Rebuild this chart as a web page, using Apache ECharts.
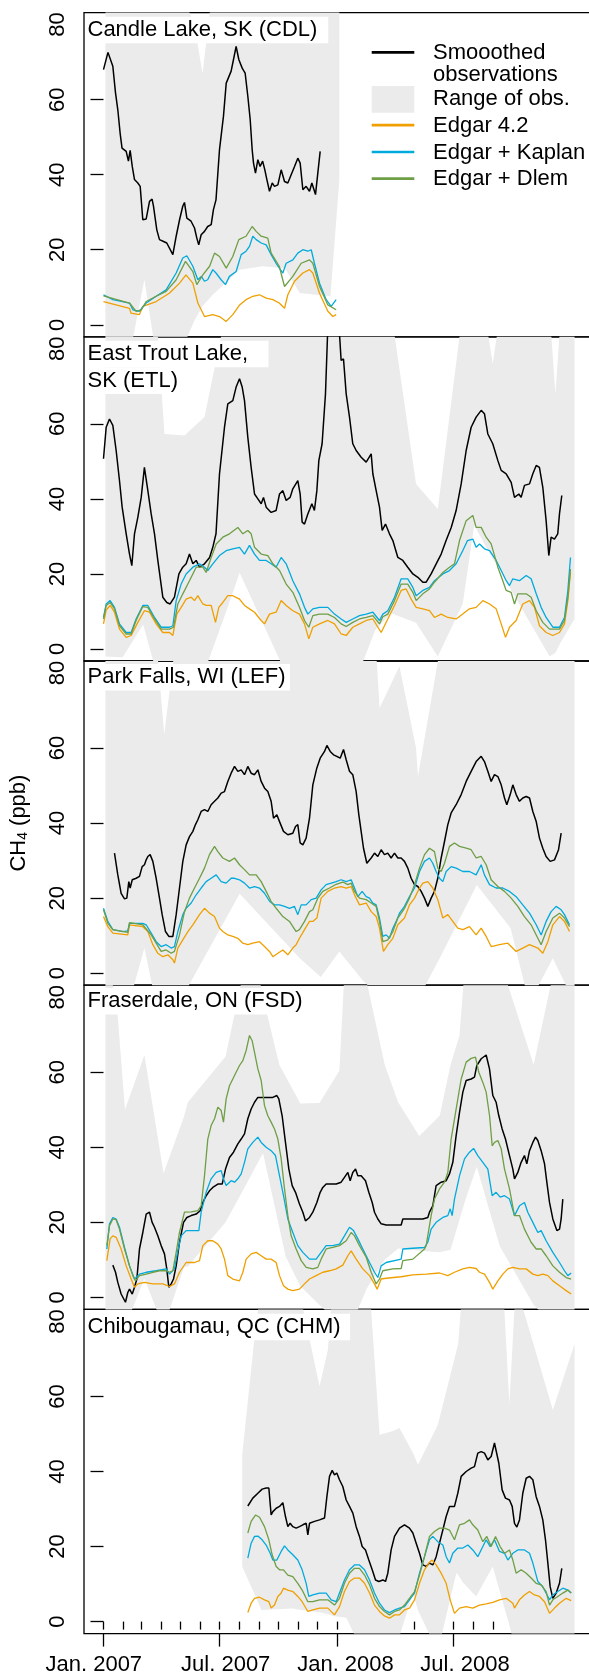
<!DOCTYPE html>
<html><head><meta charset="utf-8">
<script src="https://cdn.jsdelivr.net/npm/echarts@6/dist/echarts.min.js"></script>
<style>html,body{margin:0;padding:0;background:#fff}#c{width:589px;height:1675px}</style>
</head><body><div id="c"></div>
<script>
// ---------- axis / label data ----------
const yTickValues = [0, 20, 40, 60, 80];
// days since 2007-01-01 of the first day of each month (Jan 2007 .. Dec 2008)
const monthTickDays = [0,31,59,90,120,151,181,212,243,273,304,334,365,396,425,456,486,517,547,578,609,639,670,700];
const majorTickDays = [0,181,365,547];
const xLabels = ['Jan. 2007','Jul. 2007','Jan. 2008','Jul. 2008'];
const xLabelDays = [-15.2, 191.2, 378.6, 565.6];
const seriesNames = ['Smooothed observations','Range of obs.','Edgar 4.2','Edgar + Kaplan','Edgar + Dlem'];

// ---------- Candle Lake (CDL) ----------
const cdlObs = [[0,68],[7,72.6],[14.6,68.9],[18.8,61.8],[22.4,57.3],[26,51.1],[29,47.1],[35.5,46.2],[39,43.6],[41.7,46.5],[45,42.2],[48.5,38.7],[53.7,37.8],[57.4,36.9],[61.5,28],[66.8,28.2],[72,32.9],[76,33.5],[78.2,31.6],[83.4,25.3],[87.6,22.7],[94,22.2],[99,21.8],[102,21.3],[108.5,18.7],[113.7,23.6],[119,28],[124,31.6],[126.7,32.6],[130.4,28.4],[137,27.6],[142.4,25.8],[146,23.1],[149,21.3],[152.8,24],[158,24.9],[163,26.2],[168.5,26.7],[172,30.7],[176,33.3],[181.5,46.7],[187.7,55.6],[192,64.4],[199.7,67.6],[203.4,70.7],[207.5,74.2],[211.7,70.7],[217,68.4],[221.6,67.1],[225.8,60.9],[229.5,54.7],[232.6,46.7],[234.7,43.1],[237.8,40.4],[241.5,44],[245,42.2],[249,43.6],[252.4,41.3],[255.6,38.7],[259.7,35.6],[264,37.8],[267.5,36.9],[272.8,37.3],[278,41.3],[283.2,38.2],[288.4,37.8],[293.6,40],[298.9,42.2],[304,44.4],[307.7,43.1],[311.9,36],[317,36.9],[322.3,35.6],[326,37.8],[329,37.3],[331.7,34.7],[335.3,40.4],[339,46.2]];
const cdlEdgar = [[0,6.2],[40.7,4.4],[43,3.1],[56,2.7],[61.5,4.9],[82.4,6.2],[103,8.4],[119,11.1],[129,13.3],[139.8,11.1],[147.6,5.8],[158,2.2],[171,2.7],[181.5,2.2],[192,0.9],[202.3,2.7],[213,5.3],[223,6.7],[233.6,7.6],[244,8],[254.5,7.1],[265,6.7],[275,5.8],[283.2,4.4],[288.4,8],[298.9,11.6],[311.9,13.8],[322.3,14.7],[327.5,13.8],[338,8.4],[351,3.6],[358.8,2.2],[364,2.7]];
const cdlKaplan = [[0,8],[14.6,6.7],[40.7,5.8],[46,4],[56,3.6],[66.8,5.8],[82.4,7.6],[98,9.3],[113.7,13.8],[124,17.8],[130.4,18.4],[139.8,15.6],[147.6,12],[153,12.9],[158,11.6],[163,12],[171,14.7],[176,13.8],[184,12],[190.9,10.7],[197,12.9],[207.5,14.2],[215.4,18.7],[223,19.6],[228.4,20.9],[233.6,23.6],[238.9,22.7],[246.7,21.8],[254.5,21.3],[262.3,18.7],[270,16.4],[280.6,13.8],[285.8,16.4],[296.2,17.3],[304,19.1],[311.9,20],[319.7,19.6],[325,20],[330,16.4],[338,11.1],[348.4,6.7],[356.2,4.9],[364,6.7]];
const cdlDlem = [[0,7.7],[40.7,5.8],[51,3.6],[59,4],[66.8,6.2],[82.4,7.6],[98,8.9],[113.7,12],[128.3,16.9],[139.8,14.2],[146,10.7],[155.4,13.3],[166,15.6],[173.7,19.1],[181.5,18.2],[192,15.1],[202.3,18.2],[211.7,22.7],[223,23.6],[232.6,26.2],[238.9,24.9],[246.7,23.6],[257,23.1],[262.3,19.1],[275,15.6],[283.2,10.2],[296.2,12.9],[309.3,16.4],[322.3,17.3],[327.5,16.4],[338,10.2],[351,5.3],[364,4]];
// [day, min of obs, max of obs]
const cdlRange = [[3,-8,90],[41,-8,90],[64,12,90],[82,-8,90],[119,-8,90],[142,1,80],[155,5,67],[171,8,90],[190,11,90],[213,14.7,90],[249,15.6,90],[284,15.1,90],[307,8.5,90],[355,7.6,90],[369,38.6,90]];

// ---------- East Trout Lake (ETL) ----------
const etlObs = [[0,50.7],[4.2,59.1],[9.4,61.3],[14.6,59.6],[19.8,52.9],[25,44.9],[29.2,37.8],[35.5,30.7],[40.7,25.3],[44.3,22.2],[48.5,30.7],[53.7,35.1],[59,40.4],[64,48.4],[69.4,42.2],[74.6,36],[79.8,30.7],[85,23.6],[92.8,13.8],[99,12.4],[104.3,12],[111,13.8],[118,20],[124,21.8],[129.3,22.7],[134.5,25.3],[139.8,22.7],[145,23.6],[150.2,21.8],[158,22.7],[166,24.4],[171,27.1],[176,30.7],[181.5,46.7],[189.3,59.1],[194.5,65.3],[202.3,66.2],[207.5,69.8],[212.8,72],[217,69.8],[220.6,66.2],[225.8,56.4],[231,48.4],[236.3,41.3],[241.5,40],[246.7,38.7],[250.3,40.4],[254.5,37.8],[262.3,36.4],[270,36.9],[275.4,41.3],[280.6,42.2],[285.8,39.6],[292,40.4],[296.2,42.7],[304,44.9],[307.7,41.3],[310.8,33.8],[314.5,33.3],[319.7,36],[326,38.7],[330,36.9],[333.8,42.2],[336.9,50.2],[342,54.7],[347.3,68],[351,86],[358,94],[365,90],[369.2,84],[371.8,76.9],[375.5,77.3],[379.7,68],[384.9,61.8],[390,54.7],[395.3,52.9],[403.1,51.1],[411,49.8],[418.8,52],[421.4,46.7],[426.6,42.2],[431.8,37.8],[436,31.6],[441.2,33.3],[447.4,30.7],[452.7,28.9],[460.5,24.4],[468.3,23.6],[476,21.8],[484,20],[491.8,19.1],[499.6,17.8],[504.8,17.8],[512.6,20],[520.5,22.7],[528.3,25.3],[536,28.9],[544,32.4],[551.7,36.9],[559.6,44],[567.4,52.9],[575.2,59.1],[583,61.8],[590.9,63.6],[596,62.7],[601.3,57.3],[609,54.7],[617,50.2],[622.2,47.6],[630,46.7],[637.8,44.4],[643,40.4],[649.8,41.3],[653.4,40.4],[658.6,43.6],[666.5,44],[671.7,46.7],[677,48.9],[682,48.4],[687.3,43.1],[692.5,34.2],[696.7,24.9],[700.3,29.8],[705.5,29.3],[710.7,30.7],[713.4,36],[717,40.9]];
const etlEdgar = [[0,6.7],[4.2,10.4],[10.4,11.6],[17.2,9.8],[25,5.3],[35.5,3.1],[43.3,3.6],[53.7,7.1],[64,10.2],[72,9.8],[82.4,6.7],[92.8,4.4],[103.3,4.4],[108.5,3.6],[114.7,9.3],[121.5,11.1],[129.3,13.3],[137.2,13.8],[142.4,12.9],[147.6,14.2],[155.4,12],[160.6,11.6],[168.5,11.6],[175.2,7.1],[180.4,11.1],[186.7,12.4],[194.5,14.2],[202.3,14.2],[212.8,13.3],[220.6,11.6],[228.4,10.7],[236.3,9.8],[246.7,7.6],[251.9,6.7],[259.7,9.3],[270,9.8],[278,12.9],[285.8,11.6],[296.2,10.2],[306.6,9.3],[314.5,6.7],[321.2,2.7],[327.5,5.8],[338,6.7],[351,7.6],[361.4,6.7],[371.8,4],[379.7,3.6],[390,5.8],[400.5,6.7],[411,7.6],[421.4,8],[434.4,4.4],[444.8,8],[455.3,11.6],[465.7,15.6],[473.5,16],[481.3,13.3],[489.2,11.1],[499.6,10.7],[510,10.2],[517.8,8.4],[528.3,9.3],[538.7,8.4],[551.7,8],[562,9.3],[572.6,10.7],[583,11.1],[593.5,12.9],[604,12],[614.3,10.7],[622.2,6.7],[629,3.1],[635.2,5.8],[645.6,7.6],[656,12],[666.5,12.9],[674.3,11.1],[682.1,6.2],[692.5,4.4],[703,3.6],[713.4,4.4],[721.2,6.7],[726.5,12.9],[730.6,20.4]];
const etlKaplan = [[0,8.4],[4.2,12],[10.4,12.9],[17.2,11.1],[25,6.7],[35.5,4.4],[43.3,4.4],[51,8],[61.5,11.6],[69.4,11.6],[79.8,8.4],[90.2,5.8],[103.3,5.8],[108.5,6.2],[113.7,12.9],[121.5,17.3],[129.3,20],[139.8,21.8],[150.2,22.7],[158,21.8],[163.2,20.9],[171,22.7],[181.5,24.9],[191.9,26.2],[202.3,26.7],[212.8,27.1],[220.6,25.3],[228.4,27.6],[236.3,25.3],[244,23.6],[254.5,23.6],[262.3,22.7],[270,21.8],[278,24.4],[285.8,22.7],[296.2,18.2],[306.6,14.7],[314.5,11.1],[319.7,9.3],[327.5,10.7],[338,11.1],[351,11.1],[361.4,9.3],[371.8,8],[379.7,7.1],[390,8],[400.5,8.9],[411,9.3],[421.4,9.8],[431.8,7.6],[437,9.3],[444.8,10.2],[455.3,13.8],[465.7,18.7],[476,18.7],[484,16.4],[489.2,14.2],[499.6,15.6],[510,16.4],[517.8,18.2],[531,20],[541.3,20.9],[551.7,22.7],[562,26.2],[569.5,28.9],[577.8,29.3],[583,27.1],[588.3,28],[596,26.7],[604,26.2],[614.3,23.6],[622.2,20.9],[630,18.2],[635.2,16.9],[640.4,18.7],[650.8,18.2],[661.3,19.6],[669,18.7],[677,14.7],[684.7,11.1],[692.5,8.4],[703,5.8],[713.4,5.8],[721.2,8.4],[726.5,15.6],[730.6,24.4]];
const etlDlem = [[0,8],[4.2,11.6],[10.4,12.4],[17.2,10.7],[25,6.2],[35.5,4],[43.3,4],[51,7.6],[61.5,11.3],[69.4,11.1],[79.8,8],[90.2,5.3],[103.3,5.3],[109.6,5.8],[116.3,12],[124.1,14.7],[134.5,18.2],[145,21.8],[155.4,21.8],[160.6,20.4],[168.5,24.4],[176.3,28],[186.7,29.8],[197.1,30.7],[210.2,32.4],[218,30.7],[225.8,31.6],[231,30.7],[236.3,27.1],[246.7,25.3],[257.1,24.9],[265,22.7],[275.4,20.9],[285.8,17.3],[296.2,15.1],[306.6,11.1],[314.5,7.6],[321.2,5.8],[327.5,8.9],[338,9.3],[351,9.3],[361.4,8.4],[371.8,6.7],[379.7,6],[390,7.1],[400.5,8],[411,8.4],[421.4,8.9],[431.8,6.7],[437,8.6],[444.8,9.3],[455.3,12.9],[465.7,17.3],[476,17.3],[484,15.1],[489.2,12.9],[499.6,14.7],[510,16],[517.8,17.8],[531,20.4],[541.3,21.8],[549.1,22.7],[557,28.9],[567.4,34.2],[577.8,35.6],[583,32.4],[590.9,32.4],[598.7,29.8],[606.5,28],[617,21.8],[624.7,18.2],[630,15.6],[637.8,15.1],[643,12],[648.2,14.7],[661.3,14.7],[669,13.8],[677,10.2],[687.3,7.1],[697.8,5.3],[713.4,5.3],[721.2,7.6],[726.5,13.8],[730.6,21.3]];
const etlRange = [[3,-2,90],[30,-2.2,90],[62,6.5,90],[82.4,-6,90],[95.4,-6,57.3],[126.7,-6,56.9],[158,-6,61.8],[192,10,90],[213,20.3,90],[284,-6,90],[400,-6,90],[425,5,90],[450,9.5,90],[489,7,44],[523,-2,37.3],[562,12,90],[580,33,90],[596,28,90],[609,24,76],[621,21,90],[640,15,90],[698,-2,90],[707,-1,68],[716,2,90],[737,8,90]];

// ---------- Park Falls (LEF) ----------
const lefObs = [[17.2,32],[22.4,26.2],[27.6,21.3],[32.9,19.8],[36.5,20],[39.6,24.4],[41.7,22.7],[45,24.9],[51.1,25.3],[56.3,25.8],[60.5,28.4],[64.1,28.9],[66.8,30.2],[69.4,31.1],[73,31.6],[77.2,29.8],[82.4,25.3],[87.6,20],[91.8,15.6],[97,11.1],[102.2,9.8],[108.5,9.8],[113.7,15.6],[118.9,22.7],[124.1,29.8],[129.3,34.2],[134.5,36.4],[139.8,37.8],[143.9,39.6],[147.6,40.9],[152.8,43.1],[158,43.6],[163.2,43.1],[168.4,44.9],[173.7,45.8],[178.9,46.7],[184.1,48],[189.3,48.4],[194.5,51.1],[199.7,53.3],[205,55.1],[210.2,53.8],[215.4,54.2],[220.6,52.9],[225.8,55.1],[231,53.3],[236.3,52.9],[241.5,54.2],[246.7,51.1],[252,49.3],[257.1,48.4],[262.3,45.8],[266,41.3],[271.2,42.2],[275.4,40.4],[281.6,37.8],[288.4,36.9],[296.2,37.3],[300.4,39.1],[304,39.6],[307.7,34.7],[311.9,34.2],[317,36],[322.3,41.3],[327.5,50.2],[333.8,54.7],[339,57.3],[345.8,59.1],[349.5,60.7],[354.7,59.1],[359.9,58.2],[365,57.8],[370.3,57.3],[375.5,59.6],[379.7,56.9],[384.9,53.8],[390,52.9],[395.3,48.4],[399.5,42.2],[403.1,37.8],[406.8,33.3],[412,29.3],[418.8,30.7],[424,32],[429.2,31.1],[434.4,32.9],[439.6,31.6],[444.8,32],[450,30.7],[455.3,32],[460.5,30.7],[465.7,30.7],[470.9,29.8],[476.1,28],[481.3,25.3],[486.6,23.6],[491.8,23.1],[497,21.8],[502.2,20],[507.4,17.8],[512.6,20],[517.8,21.8],[523,25.3],[528.3,30.7],[533.5,35.1],[538.7,39.6],[543.9,42.7],[551.7,44.9],[559.6,47.6],[567.4,51.1],[575.2,53.8],[583,56.4],[590.9,57.8],[596,56.4],[601.3,53.8],[606.5,51.1],[611.7,52.9],[617,52.4],[622.2,50.2],[627.4,46.7],[631,44.9],[636.3,47.6],[640.4,50.2],[645.6,47.6],[650.8,45.8],[656,46.7],[661.3,47.1],[666.5,46.7],[671.7,43.1],[677,40.4],[682.1,36],[687.3,33.3],[692.5,31.1],[698.8,29.8],[705.6,30.2],[711.9,32.9],[716,37.3]];
const lefEdgar = [[0,15.1],[6.8,12.4],[14.6,10.7],[38,10.2],[40.7,12.9],[61.5,12.4],[69.4,11.1],[77.2,7.6],[85,5.3],[92.8,4.4],[100.7,4.9],[108.5,3.6],[111,2.7],[116.3,6.7],[124.1,8.9],[132,11.1],[139.8,12.9],[150.2,15.6],[158,17.3],[165.8,16],[173.7,15.1],[181.5,12],[186.7,11.1],[194.5,10.2],[202.3,9.8],[210.2,9.3],[218,8],[225.8,7.6],[233.6,8],[244.1,8.4],[251.9,7.1],[259.7,5.8],[265,4.4],[272.8,5.3],[280.6,6.2],[288.4,4.9],[296.2,6.7],[301.4,7.6],[306.6,9.3],[314.5,11.6],[322.3,13.8],[327.5,13.8],[333.8,14.7],[340.5,20],[351,21.8],[361.4,22.7],[371.8,23.1],[379.7,22.7],[387.5,23.1],[392.7,20.9],[400.5,18.2],[411,18.7],[418.8,16.4],[426.6,15.1],[431.8,12],[438,5.8],[444.8,7.6],[452.7,9.3],[460.5,12.9],[470.9,14.7],[478.7,18.2],[486.6,20],[494.4,22.7],[499.6,24],[507.4,24.4],[515.2,22.7],[523,19.6],[530.9,14.7],[538.7,15.6],[546.5,13.8],[554.3,12],[562.2,11.6],[572.6,12.4],[583,10.2],[590.9,12],[598.7,9.8],[606.5,7.1],[619.6,7.6],[632.6,8],[645.6,5.8],[656,6.7],[666.5,7.6],[679.5,6.7],[687.3,5.3],[695.2,8.4],[703,12.9],[713.4,15.1],[721.2,13.8],[729.1,11.1]];
const lefKaplan = [[0,17.3],[6.8,13.8],[14.6,11.6],[30.2,11.1],[38,11.3],[40.7,13.3],[51.1,13.3],[61.5,13.3],[66.8,12.9],[74.6,10.7],[82.4,8.4],[90.2,7.1],[98,7.6],[105.9,6.7],[111,7.1],[116.3,11.1],[124.1,15.6],[129.3,17.3],[137.2,18.7],[145,20.9],[152.8,22.7],[160.6,24.4],[168.4,25.3],[176.3,26.2],[184.1,24.4],[191.9,24],[199.7,25.3],[205,25.3],[212.8,24.9],[220.6,24],[228.4,22.7],[236.3,23.1],[244.1,22.7],[251.9,21.3],[260.1,19.1],[267.5,18.2],[275.4,18.2],[283.2,17.8],[291,17.3],[298.8,17.8],[304,15.6],[309.3,18.2],[317,18.2],[325,19.6],[332.7,20],[340.5,22.2],[348.3,23.6],[356.2,24],[364,24.4],[371.8,24.9],[379.7,24.4],[387.5,24.9],[392.7,22.7],[397.9,20.4],[404.7,21.8],[411,20.4],[416.2,20],[421.4,18.7],[426.6,18.2],[431.8,14.7],[437,9.8],[442.2,10.2],[447.4,9.3],[452.7,12],[457.9,13.8],[463.1,16],[470.9,17.8],[478.7,20.4],[486.6,22.7],[494.4,27.1],[502.2,29.8],[510,30.7],[515.2,29.3],[520.4,27.1],[525.7,25.3],[530.9,24.4],[536.1,27.1],[543.9,28.4],[551.7,28],[562.2,27.1],[572.6,27.1],[583,26.2],[590.9,28.9],[596,26.2],[603.9,23.6],[614.3,22.7],[624.7,22.7],[635.2,21.8],[645.6,20.4],[656,18.2],[666.5,16],[677,12.9],[684.7,10.2],[692.5,13.8],[700.3,16.4],[708.2,17.8],[716,16.9],[721.2,15.6],[729.1,12.9]];
const lefDlem = [[0,16.9],[6.8,13.3],[14.6,11.6],[38,10.9],[40.7,13.5],[61.5,12.9],[74.6,10.2],[82.4,8],[90.2,5.8],[98,6.2],[105.9,5.3],[111,5.8],[118.9,10.2],[126.7,16.4],[134.5,20],[142.4,22.7],[150.2,25.3],[158,28],[165.8,31.6],[173.7,33.8],[178.9,32.4],[186.7,30.7],[197.1,29.8],[205,30.7],[212.8,28.9],[220.6,27.6],[228.4,26.2],[238.9,26.2],[246.7,24.4],[254.5,21.8],[262.3,19.1],[270.2,17.3],[280.6,15.1],[291,13.8],[301.4,11.1],[306.6,11.6],[314.5,13.8],[322.3,16.4],[327.5,16.9],[335.3,20],[343.1,21.8],[353.6,22.7],[364,23.7],[374.4,24.3],[382.3,23.6],[387.5,24],[392.7,21.8],[400.5,20],[411,19.6],[418.8,18.7],[426.6,17.8],[431.8,13.8],[437,8.4],[444.8,8.9],[452.7,11.1],[460.5,14.7],[470.9,17.3],[478.7,20],[486.6,23.6],[494.4,28],[502.2,31.6],[510,33.3],[517.8,32.4],[523,28],[528.3,27.1],[533.5,29.3],[541.3,33.8],[549.1,34.7],[557,33.8],[567.4,33.3],[575.2,32.9],[583,30.7],[590.9,31.1],[598.7,28.9],[606.5,24.9],[617,23.1],[627.4,21.8],[637.8,20],[648.2,17.8],[658.6,15.1],[669,12.9],[677,10.2],[684.7,7.6],[692.5,11.1],[703,14.7],[713.4,16],[721.2,14.7],[729.1,12.4]];
const lefRange = [[3,-8,90],[40,-8,90],[64,6.7,90],[82,-8,90],[95,-8,63.6],[114,-8,90],[118,-8,90],[213,21.2,90],[307,4,90],[340,-1,90],[369,5.8,90],[406,-2,90],[425,-5,90],[432,-5,70.7],[463,-6,81.8],[489,-8,60],[492,-7,52.4],[526,4,86],[584,23.5,90],[637,12,90],[666,-8,90],[703,4,90],[737,-8,90]];

// ---------- Fraserdale (FSD) ----------
const fsdObs = [[14.6,8.6],[18.8,6.7],[22.4,4],[27.6,0.9],[34.4,-1.3],[38,1.3],[40.7,2.2],[45,0.9],[48.5,2.7],[52.2,4.9],[56.3,12.9],[61.5,17.3],[66.8,22.2],[72,22.7],[76.1,20],[79.8,18.7],[85,16.4],[90.2,13.8],[95.4,11.6],[99,7.6],[102.2,2.7],[105.9,3.6],[109.5,4.9],[113.7,8.4],[118.9,14.7],[125.2,20],[130.4,21.3],[137.2,21.8],[145,22.2],[151.2,23.1],[155.4,25.3],[160.6,27.1],[165.8,28.4],[171,29.3],[178.9,30.2],[185.7,30.2],[190.9,34.2],[197.1,37.3],[203.4,38.7],[210.2,40.9],[215.4,42.2],[220.6,43.6],[225.8,47.6],[231,50.2],[236.3,52],[241.5,53.3],[249.3,53.3],[257.1,53.3],[264.9,53.3],[271.2,53.8],[274.3,52.9],[279.5,48.4],[284.7,41.3],[290,34.2],[295.2,29.8],[300.4,28],[306.6,24.9],[311.9,22.7],[316,20.4],[322.3,21.3],[327.5,22.7],[333.8,25.3],[339,28],[343.1,29.3],[348.4,30.2],[356.2,30.2],[364,30.2],[371.8,30.7],[377,32],[382.3,33.3],[385.9,31.1],[390,33.3],[394.3,34.2],[397.9,32.4],[403.1,32.4],[409.9,31.1],[415.1,28],[420.4,25.3],[424,22.7],[429.2,20.9],[434.4,19.6],[442.2,19.3],[455.3,19.3],[465.7,19.3],[468.3,20.9],[478.7,20.9],[489.2,20.9],[499.6,20.9],[507.4,21.3],[510,22.7],[515.2,24.4],[520.4,29.8],[528.3,30.7],[536.1,31.1],[541.3,32.9],[546.5,36],[551.7,43.1],[557,49.3],[562.2,54.7],[567.4,57.8],[575.2,58.2],[580.4,58.7],[584.1,61.8],[590.9,63.6],[598.7,64.6],[603.9,60.9],[609.1,53.8],[614.3,52],[618.5,48.4],[623.7,44.9],[628.9,42.2],[635.2,37.8],[640.4,34.2],[643,31.6],[648.2,33.3],[653.4,36],[658.6,37.8],[662.3,35.6],[666.5,39.1],[671.7,41.3],[675.9,42.7],[679.5,41.8],[684.7,39.1],[690,35.6],[693.6,30.7],[697.8,25.3],[703,20.9],[709.3,17.8],[713.5,18.2],[716,20.9],[718.6,26.2]];
const fsdEdgar = [[5.2,9.8],[10.4,15.6],[14.6,16.4],[19.8,16],[27.6,12.9],[35.5,8.4],[43.3,4.9],[48.5,2.7],[53.7,3.6],[64.1,4],[77.2,3.6],[92.8,3.6],[103.3,2.9],[111,3.6],[118.9,6.7],[129.3,9.3],[142.4,9.3],[150.2,9.8],[155.4,13.8],[163.2,15.1],[171,15.1],[178.9,14.2],[184.1,12.9],[189.3,10.2],[194.5,5.8],[202.3,4.9],[212.8,4.4],[218,6.7],[223.2,10.2],[231,11.6],[238.9,12],[246.7,11.1],[254.5,10.2],[262.3,10.2],[270.1,9.3],[275.4,5.8],[281.6,3.1],[288.4,2.2],[296.2,1.8],[306.6,2.2],[314.5,3.6],[322.3,4.9],[332.7,5.8],[343.1,6.7],[353.6,7.1],[364,7.6],[374.4,8.6],[382.3,11.1],[387.5,12.4],[395.3,10.2],[405.7,7.6],[416.2,5.8],[424,3.6],[428.1,2.2],[434.4,4.9],[442.2,5.1],[465.7,5.5],[484,6],[504.8,6.2],[525.7,6.5],[538.7,5.8],[549.1,6.7],[562.2,7.6],[572.6,8],[583,7.7],[588.3,6.7],[596.1,6.2],[603.9,4],[609.1,2.2],[617,4.4],[624.7,6.2],[632.6,7.6],[640.4,8],[650.8,7.6],[661.3,7.6],[671.7,6.2],[679.5,5.8],[687.3,6.2],[695.2,5.8],[703,4.4],[713.4,3.1],[723.8,1.8],[731.7,0.9]];
const fsdKaplan = [[5.2,12.9],[9.4,19.6],[14.6,21.3],[19.8,20.9],[25,18.7],[32.9,13.3],[40.7,8.4],[48.5,4.9],[56.3,6.2],[66.8,6.7],[82.4,7.1],[98,7.6],[103.3,6.2],[111,7.6],[116.3,12.4],[121.5,16.4],[129.3,17.8],[139.8,17.8],[149.2,17.8],[152.8,22.7],[160.6,28],[168.4,31.6],[176.3,33.3],[184.1,33.8],[187.7,31.6],[191.9,29.8],[199.7,31.1],[205,30.7],[210.2,31.6],[215.4,32.9],[220.6,36],[225.8,39.6],[233.6,41.3],[241.5,42.7],[246.7,41.3],[254.5,40],[262.3,39.1],[269.1,37.8],[275.4,32.4],[281.6,27.1],[288.4,20.9],[296.2,17.3],[304,13.8],[311.9,12],[322.3,10.2],[332.7,10.2],[340.5,12],[348.3,13.8],[358.8,13.8],[369.2,14.2],[377,16.4],[384.9,18.7],[391.2,17.8],[398,15.6],[405.7,12.9],[416.2,9.3],[424,6.7],[429.2,5.3],[434.4,8.4],[442.2,9.3],[465.7,10.2],[468.3,12.9],[484,13.1],[502.2,13.3],[507.4,14.7],[512.6,18.2],[520.4,20],[530.9,21.3],[538.7,21.8],[542.4,23.6],[545.5,21.8],[549.1,26.2],[557,32.4],[564.8,36.9],[572.6,38.7],[579,39.7],[585.6,37.8],[593.5,36],[601.3,34.2],[608.1,27.1],[614.3,28],[620.6,26.7],[627.4,27.1],[635.2,26.2],[643,21.8],[650.8,24.4],[658.6,25.3],[663.8,22.7],[671.7,20],[679.5,17.3],[684.7,17.8],[692.5,15.1],[703,12],[713.4,9.3],[721.2,7.1],[726.5,5.8],[731.7,6.5]];
const fsdDlem = [[5.2,13.8],[9.4,19.1],[14.6,20.9],[19.8,20.7],[25,18.2],[32.9,12.9],[40.7,8.4],[45.9,5.8],[50,4.4],[56.3,5.8],[66.8,6.2],[77.2,6.7],[87.6,7.1],[98,7.1],[103.3,6.7],[108.5,7.1],[113.7,12],[118.9,17.3],[126.7,22.7],[137.2,22.8],[147.6,23.1],[152.8,24.4],[158,32.4],[163.2,42.2],[168.4,45.8],[173.7,47.6],[178.9,50.7],[184.1,49.8],[187.7,46.7],[191.9,52.9],[197.1,56.4],[202.3,58.2],[207.5,60],[212.8,61.8],[218,63.1],[223.2,65.8],[228.4,69.8],[232.6,68.4],[236.3,65.3],[241.5,60.9],[246.7,57.8],[251.9,51.1],[257.1,48.4],[262.3,46.7],[267.5,44.9],[272.8,42.2],[278,36.9],[283.2,28.9],[288.4,21.8],[293.6,16.4],[301.4,12.9],[309.3,9.8],[317.1,8],[327.5,7.6],[335.3,8],[340.5,10.2],[348.4,12.9],[358.8,13.3],[369.2,13.8],[379.7,15.1],[387.5,17.3],[392.7,16.4],[400.5,13.8],[411,10.7],[418.8,6.7],[426.6,3.6],[431.8,4.9],[437,7.1],[452.7,7.6],[465.7,7.7],[468.3,9.8],[484,10.2],[502.2,12.9],[504.8,13.8],[512.6,21.8],[517.8,26.2],[525.7,28.9],[533.5,30.7],[538.7,33.3],[543.9,42.2],[551.7,50.2],[559.6,58.2],[567.4,62.7],[575.2,63.7],[582,64],[587.2,60],[593.5,57.3],[598.7,54.7],[604,48.4],[608.1,40.4],[611.7,41.3],[617,41.8],[622.2,39.6],[627.4,34.2],[635.2,28.9],[643,21.8],[650.8,21.8],[658.6,18.2],[669,14.7],[677,12.9],[684.7,12.9],[692.5,11.1],[703,8.4],[713.4,6.7],[723.8,5.3],[731.7,4.9]];
const fsdRange = [[3,-8,90],[20,-8,80],[33.6,-8,50],[64,5,64.6],[94,-8,33.1],[126,8,48.2],[132,8.2,52],[191,20,64.2],[223,30,90],[233,33.2,90],[245,37,84],[249.6,38.4,80],[275,18.7,62],[285,10.9,58.9],[308,3,51.7],[338,-2,51.8],[369,-7,60.4],[378,-8,90],[396,-4,90],[405,-0.4,90],[412,2.4,84],[440,10,62],[461,13,52],[494,12.4,43],[526,12,48.4],[543,12.7,62],[557,20.7,69.8],[566,25.9,90],[584,34.8,90],[620,13.6,90],[673,-2,62],[708,-8,90],[737,-8,90]];

// ---------- Chibougamau (CHM) ----------
const chmObs = [[225.8,30.8],[233.6,32.9],[241.5,34.2],[248.2,35.3],[254.5,35.6],[258.7,35.6],[262.3,28.4],[265,29.3],[270.2,30.2],[275.4,30.7],[280.6,31.7],[284.7,28],[288.4,25.3],[292,26.2],[296.2,25.3],[301.4,24.9],[306.6,25.3],[311.9,25.8],[317.1,26.2],[319.7,23.1],[322.3,26.2],[330.1,26.7],[338,27.1],[345.8,27.6],[349.5,33.3],[353.6,38.7],[357.8,40.3],[361.4,39.1],[365,39.6],[369.2,37.8],[374.4,36],[379.7,32.4],[384.9,30.7],[390.1,28.9],[395.3,25.3],[400.5,22.7],[404.7,20],[409.9,19.1],[415.1,16.4],[420.4,13.8],[425.6,11.1],[430.8,10.7],[437,11.1],[441.2,10.7],[444.8,12.9],[450,19.1],[455.3,22.7],[463.1,24.9],[470.9,25.8],[478.7,24.9],[484,23.6],[489.2,20.9],[494.4,18.2],[499.6,15.1],[504.8,14.7],[510,15.6],[515.2,15.1],[520.5,17.3],[525.7,20.9],[530.9,24.4],[536.1,28],[541.3,30.7],[549.1,30.7],[554.3,34.2],[559.6,38.7],[567.4,40],[575.2,40.9],[580.4,41.3],[585.6,44.9],[590.9,45.3],[596.1,44.9],[601.3,43.1],[606.5,44],[611.7,47.6],[614.3,47.7],[618.5,42.2],[623.7,35.1],[628.9,32.9],[635.2,32.4],[639.4,30.7],[643,26.2],[646.7,25.2],[650.8,27.1],[656,34.2],[661.3,38.2],[666.5,38.7],[671.7,37.8],[676.9,33.3],[682.1,30.7],[687.3,27.1],[691.5,21.8],[695.2,15.6],[698.8,9.3],[703,6.2],[708.2,7.6],[713.4,10.2],[717,14.2]];
const chmEdgar = [[225.8,2.4],[231,4.9],[236.3,6.2],[244.1,6.5],[251.9,5.8],[258.7,5.3],[262.3,3.6],[267.5,4.4],[272.8,6.7],[278,7.6],[281.6,8.9],[288.4,8.4],[296.2,8],[304,6.7],[310.8,5.3],[319.7,2.7],[327.5,3.1],[338,3.6],[351,3.6],[361.4,1.8],[369.2,4],[377,8],[384.9,10.7],[392.7,11.6],[400.5,11.6],[408.4,10.2],[416.2,7.6],[424,4.4],[431.8,2.7],[439.6,1.5],[447.4,0.9],[455.3,1.8],[463.1,1.8],[470.9,3.1],[478.7,3.6],[486.6,5.8],[494.4,10.2],[502.2,13.8],[509,15.6],[514.1,16.4],[520.4,15.1],[528.3,12.9],[536.1,10.2],[542.4,5.8],[549.1,2.2],[557,3.6],[567.4,4],[577.8,3.6],[588.3,4.4],[598.7,4.7],[609.1,5.1],[619.6,5.8],[630,6.2],[640.4,4.9],[643,3.6],[650.8,5.8],[658.6,7.1],[666.5,8],[674.3,7.1],[682.1,6.7],[690,5.3],[697.8,2.2],[705.6,3.6],[713.4,4.9],[723.8,6.2],[731.7,5.6]];
const chmKaplan = [[225.8,16.9],[231,20.9],[236.3,22.7],[241.5,22.8],[248.2,21.8],[254.5,20.4],[260.8,18.2],[265,16.4],[271.2,16.4],[278,18.7],[283.2,20.2],[288.4,19.1],[296.2,17.8],[304,16.4],[310.8,13.8],[317.1,10.2],[321.2,6.7],[327.5,7.1],[338,7.6],[348.4,7.6],[356.2,5.8],[364,5.3],[369.2,7.6],[377,11.1],[384.9,13.8],[392.7,15.1],[400.5,15.1],[408.4,13.8],[416.2,11.1],[424,7.6],[431.8,4.9],[439.6,3.1],[447.4,2.4],[455.3,3.1],[463.1,3.6],[470.9,4],[478.7,5.8],[486.6,7.6],[494.4,12.9],[502.2,17.3],[510,21.8],[515.2,22.7],[523,21.3],[530.9,20.4],[536.1,17.3],[541.3,15.6],[546.5,18.2],[554.3,19.6],[562.2,19.6],[570,20.4],[577.8,19.1],[585.6,17.3],[593.5,20],[598.7,21.8],[605,20],[611.7,21.8],[619.6,18.7],[627.4,18.2],[632.6,16.4],[640.4,18.2],[648.2,19.1],[658.6,19.1],[666.5,18.2],[671.7,15.6],[679.5,10.7],[687.3,9.3],[692.5,7.6],[697.8,5.8],[703,7.1],[710.8,8],[718.6,8.9],[726.5,8.4],[731.7,7.6]];
const chmDlem = [[225.8,23.6],[231,26.7],[237.8,28.4],[244.1,27.8],[251.9,25.3],[258.7,21.8],[263.9,17.8],[270.2,14.7],[275.4,13.8],[281.6,13.8],[288.4,12.4],[296.2,12],[304,10.2],[310.8,8.4],[319.7,5.3],[327.5,5.3],[338,5.8],[351,5.8],[361.4,4.4],[369.2,6.2],[377,10.2],[384.9,12.9],[392.7,14.2],[400.5,14.2],[408.4,12.4],[416.2,9.8],[424,6.2],[431.8,4],[439.6,2.7],[447.4,1.8],[455.3,2.7],[463.1,3.1],[470.9,4.4],[478.7,6.2],[486.6,8],[494.4,12.4],[502.2,17.3],[510,22.7],[517.8,24],[525.7,24.9],[533.5,24.9],[541.3,24.4],[549.1,21.8],[557,25.8],[564.8,26.2],[572.6,27.1],[577.8,25.8],[585.6,24.4],[593.5,21.3],[599.7,22.7],[606.5,20],[613.3,22.7],[620.6,20],[627.4,18.2],[635.2,19.1],[640.4,16.4],[645.6,12.9],[653.4,13.8],[661.3,12.9],[669,11.6],[676.9,10.2],[684.7,9.8],[692.5,8],[697.8,4.4],[703,5.8],[710.8,6.7],[718.6,7.6],[726.5,8.4],[731.7,7.6]];
const chmRange = [[217,14.7,44.4],[237,7,77],[247,3.1,90],[296,3.5,90],[304,3.2,90],[338,2.5,62.7],[351,2,72.4],[359,1.5,90],[380,1,90],[405,-8,90],[416,-8,90],[432,-8,49.8],[453,-8,50.8],[463,-4,51.6],[484,7.6,45],[492,3,41.8],[523,-8,52.4],[552,12.9,72],[555,12.5,74.2],[562,10.5,90],[583,6.7,90],[609,14.7,90],[625,5,90],[635,-1,58],[645,-8,90],[703,-8,56.4],[737,-8,74]];

// ---------- layout & styling ----------
const FONT = "'Liberation Sans', Arial, Helvetica, sans-serif";
const C_OBS = '#000000', C_EDGAR = '#EFA000', C_KAPLAN = '#00AADD', C_DLEM = '#6E9E45', C_RANGE = '#EBEBEB';
const X_MIN = -30.5, X_MAX = 767.4, Y_MIN = -3.2, Y_MAX = 83.2;
const GRID_LEFT = 84, GRID_TOP0 = 12.6, GRID_H = 324.2, GRID_W = 510;

const panels = [
  {titles: [{t:'Candle Lake, SK (CDL)', top:16.7, pr:10.9}], obs: cdlObs, edgar: cdlEdgar, kaplan: cdlKaplan, dlem: cdlDlem, range: cdlRange},
  {titles: [{t:'East Trout Lake,', top:340.7, pr:20.4}, {t:'SK (ETL)', top:367.3, pr:1.3}], obs: etlObs, edgar: etlEdgar, kaplan: etlKaplan, dlem: etlDlem, range: etlRange},
  {titles: [{t:'Park Falls, WI (LEF)', top:664, pr:4.5}], obs: lefObs, edgar: lefEdgar, kaplan: lefKaplan, dlem: lefDlem, range: lefRange},
  {titles: [{t:'Fraserdale, ON (FSD)', top:988, pr:4.1}], obs: fsdObs, edgar: fsdEdgar, kaplan: fsdKaplan, dlem: fsdDlem, range: fsdRange},
  {titles: [{t:'Chibougamau, QC (CHM)', top:1313.7, pr:9.5}], obs: chmObs, edgar: chmEdgar, kaplan: chmKaplan, dlem: chmDlem, range: chmRange}
];

// polygon between the min and max curves, placed through the axes' scales
function rangeRenderer(rangeArr) {
  return function (params, api) {
    const upper = rangeArr.map(r => api.coord([r[0], r[2]]));
    const lower = rangeArr.map(r => api.coord([r[0], r[1]])).reverse();
    return {type: 'polygon', shape: {points: upper.concat(lower)}, style: {fill: C_RANGE, stroke: null}, silent: true};
  };
}

const grids = [], xAxes = [], yAxes = [], series = [], titles = [];
panels.forEach((p, i) => {
  grids.push({left: GRID_LEFT, top: GRID_TOP0 + GRID_H * i, width: GRID_W, height: GRID_H,
    show: true, borderColor: '#000', borderWidth: 1.3, backgroundColor: 'transparent', containLabel: false, outerBoundsMode: 'none'});
  xAxes.push({gridIndex: i, type: 'value', min: X_MIN, max: X_MAX, show: i === 4, position: 'bottom',
    axisLine: {show: false}, splitLine: {show: false},
    axisTick: {show: true, customValues: monthTickDays, length: 8, lineStyle: {color: '#000', width: 1.3}},
    axisLabel: {show: false}});
  const y = {gridIndex: i, type: 'value', min: Y_MIN, max: Y_MAX,
    axisLine: {show: false}, splitLine: {show: false},
    axisTick: {show: true, customValues: yTickValues, length: 13, lineStyle: {color: '#000', width: 1.3}},
    axisLabel: {show: true, customValues: yTickValues, rotate: 90, margin: 15, fontSize: 22, color: '#000', fontFamily: FONT}};
  if (i === 2) {
    y.name = '{a|CH}{b|4}{a| (ppb)}';
    y.nameLocation = 'middle';
    y.nameGap = 54;
    y.nameTextStyle = {rich: {a: {fontSize: 22, lineHeight: 22, color: '#000', fontFamily: FONT},
                              b: {fontSize: 14, lineHeight: 14, verticalAlign: 'bottom', color: '#000', fontFamily: FONT}}};
  }
  yAxes.push(y);
  p.titles.forEach(tt => titles.push({text: tt.t, left: 85, top: tt.top, backgroundColor: '#fff', padding: [2, tt.pr, 2, 2.5], z: 10,
    textStyle: {fontSize: 22, fontWeight: 'normal', color: '#000', fontFamily: FONT, lineHeight: 22.6}}));

  const common = {xAxisIndex: i, yAxisIndex: i, silent: true, animation: false};
  series.push(Object.assign({name: seriesNames[1], type: 'custom', coordinateSystem: 'cartesian2d', clip: true, z: 1,
    data: [[p.range[0][0], p.range[0][1]]], renderItem: rangeRenderer(p.range), itemStyle: {color: C_RANGE}}, common));
  series.push(Object.assign({name: seriesNames[0], type: 'line', symbol: 'none', z: 3, data: p.obs, lineStyle: {color: C_OBS, width: 1.5}, itemStyle: {color: C_OBS}}, common));
  series.push(Object.assign({name: seriesNames[2], type: 'line', symbol: 'none', z: 3, data: p.edgar, lineStyle: {color: C_EDGAR, width: 1.3}, itemStyle: {color: C_EDGAR}}, common));
  series.push(Object.assign({name: seriesNames[3], type: 'line', symbol: 'none', z: 3, data: p.kaplan, lineStyle: {color: C_KAPLAN, width: 1.3}, itemStyle: {color: C_KAPLAN}}, common));
  series.push(Object.assign({name: seriesNames[4], type: 'line', symbol: 'none', z: 3, data: p.dlem, lineStyle: {color: C_DLEM, width: 1.3}, itemStyle: {color: C_DLEM}}, common));
});
// second bottom axis: long ticks at Jan/Jul and the date labels
xAxes.push({gridIndex: 4, type: 'value', min: X_MIN, max: X_MAX, position: 'bottom',
  axisLine: {show: false}, splitLine: {show: false},
  axisTick: {show: true, customValues: majorTickDays, length: 13, lineStyle: {color: '#000', width: 1.3}},
  axisLabel: {show: true, customValues: xLabelDays, margin: 20, fontSize: 22, color: '#000', fontFamily: FONT,
    formatter: v => { const k = xLabelDays.indexOf(v); return k >= 0 ? xLabels[k] : ''; }}});

// legend (drawn as graphic keys in the first panel)
const legendKeys = [
  {kind: 'line', color: C_OBS, keyY: 52.3, texts: [['Smooothed', 52.5], ['observations', 75]]},
  {kind: 'rect', color: C_RANGE, keyY: 99.4, texts: [['Range of obs.', 98.8]]},
  {kind: 'line', color: C_EDGAR, keyY: 125.2, texts: [['Edgar 4.2', 125.6]]},
  {kind: 'line', color: C_KAPLAN, keyY: 152, texts: [['Edgar + Kaplan', 152.6]]},
  {kind: 'line', color: C_DLEM, keyY: 178.6, texts: [['Edgar + Dlem', 179.2]]}
];
const graphics = [];
legendKeys.forEach(k => {
  if (k.kind === 'line') {
    graphics.push({type: 'line', silent: true, z: 20, shape: {x1: 371.7, y1: k.keyY, x2: 414.3, y2: k.keyY}, style: {stroke: k.color, lineWidth: 2.7}});
  } else {
    graphics.push({type: 'rect', silent: true, z: 20, shape: {x: 371.7, y: k.keyY - 13.3, width: 42.6, height: 26.6}, style: {fill: k.color}});
  }
  k.texts.forEach(t => graphics.push({type: 'text', silent: true, z: 20, x: 433, y: t[1],
    style: {text: t[0], fill: '#000', fontSize: 22, fontFamily: FONT, verticalAlign: 'middle', align: 'left'}}));
});

const option = {
  animation: false,
  backgroundColor: '#fff',
  textStyle: {fontFamily: FONT},
  title: titles,
  grid: grids,
  xAxis: xAxes,
  yAxis: yAxes,
  graphic: graphics,
  series: series
};
const chart = echarts.init(document.getElementById('c'), null, {renderer: 'canvas'});
chart.setOption(option);
</script>
</body></html>
